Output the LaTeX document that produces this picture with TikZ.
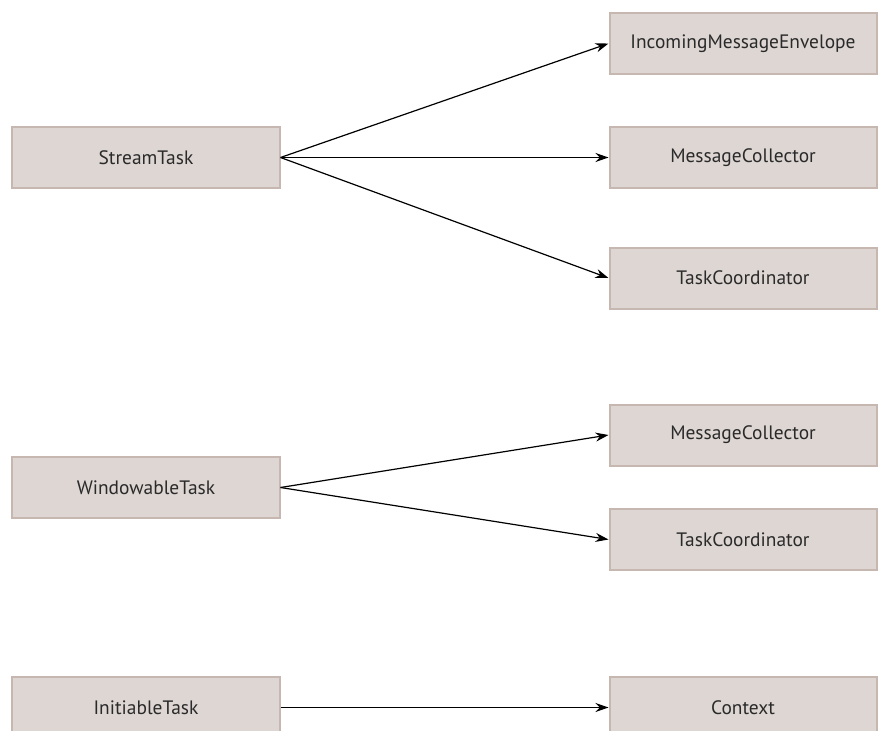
\documentclass[tikz,border=0pt]{standalone}
\usepackage{fontspec}
\setmainfont{PT Sans}
\usetikzlibrary{arrows.meta}
\definecolor{boxfill}{HTML}{DDD6D3}
\definecolor{boxline}{HTML}{C6B8B0}
\definecolor{txt}{HTML}{2A2A2A}
\begin{document}
\begin{tikzpicture}[x=1bp,y=-1bp,
  box/.style={draw=boxline,fill=boxfill,line width=2bp,minimum width=267bp,minimum height=61bp,inner sep=0pt,text=txt,font=\fontsize{19.5}{22}\selectfont},
  conn/.style={-{Stealth[length=13bp,width=9bp]},line width=1.2bp,black}]
\useasboundingbox (0,0) rectangle (878,731);
\node[box] (st) at (146,157.5) {StreamTask};
\node[box] (ime) at (743,43.5) {IncomingMessageEnvelope};
\node[box] (mc1) at (743,157.5) {MessageCollector};
\node[box] (tc1) at (743,278) {TaskCoordinator};
\node[box] (wt) at (146,487.5) {WindowableTask};
\node[box] (mc2) at (743,435) {MessageCollector};
\node[box] (tc2) at (743,539.5) {TaskCoordinator};
\node[box] (it) at (146,707.5) {InitiableTask};
\node[box] (ctx) at (743,707.5) {Context};
\draw[conn] (st.east) -- (ime.west);
\draw[conn] (st.east) -- (mc1.west);
\draw[conn] (st.east) -- (tc1.west);
\draw[conn] (wt.east) -- (mc2.west);
\draw[conn] (wt.east) -- (tc2.west);
\draw[conn] (it.east) -- (ctx.west);
\end{tikzpicture}
\end{document}
